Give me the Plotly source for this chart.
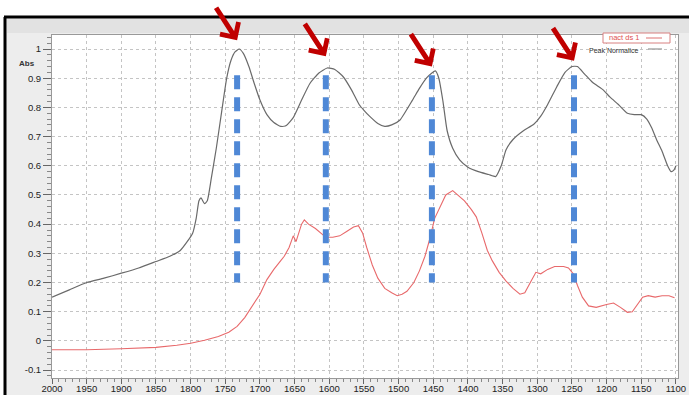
import plotly.graph_objects as go

# ---------------- data ----------------
gray_wn = [2000, 1975, 1950, 1925, 1900, 1875, 1850, 1830, 1815, 1805, 1797, 1792, 1788, 1785,
           1780, 1776, 1770, 1763, 1755, 1748, 1742, 1736, 1730, 1724, 1716, 1708, 1700, 1690,
           1680, 1670, 1662, 1652, 1640, 1628, 1615, 1603, 1592, 1580, 1568, 1557, 1550, 1542,
           1530, 1520, 1510, 1498, 1480, 1470, 1460, 1452, 1447, 1442, 1436, 1430, 1422, 1412,
           1400, 1385, 1370, 1360, 1352, 1345, 1335, 1320, 1305, 1295, 1285, 1272, 1260, 1250,
           1242, 1232, 1220, 1205, 1195, 1183, 1170, 1160, 1150, 1142, 1135, 1128, 1120, 1112,
           1107, 1103, 1100]
gray_abs = [0.150, 0.175, 0.200, 0.215, 0.232, 0.250, 0.272, 0.290, 0.310, 0.340, 0.370, 0.420, 0.480, 0.490,
            0.470, 0.480, 0.560, 0.660, 0.790, 0.900, 0.960, 0.990, 1.000, 0.985, 0.940, 0.880, 0.825, 0.775,
            0.748, 0.735, 0.738, 0.765, 0.825, 0.882, 0.918, 0.935, 0.930, 0.905, 0.860, 0.810, 0.790, 0.770,
            0.745, 0.735, 0.740, 0.757, 0.825, 0.865, 0.900, 0.918, 0.925, 0.900, 0.820, 0.720, 0.660, 0.620,
            0.595, 0.580, 0.570, 0.563, 0.600, 0.655, 0.690, 0.720, 0.742, 0.770, 0.810, 0.870, 0.920, 0.940,
            0.940, 0.915, 0.885, 0.860, 0.835, 0.810, 0.780, 0.775, 0.775, 0.760, 0.730, 0.690, 0.650, 0.600,
            0.580, 0.585, 0.600]

red_wn = [2000, 1950, 1900, 1850, 1820, 1800, 1780, 1760, 1745, 1733, 1722, 1712, 1700, 1690,
          1680, 1670, 1665, 1658, 1652, 1648, 1645, 1640, 1636, 1630, 1620, 1612, 1605, 1595,
          1585, 1575, 1565, 1558, 1552, 1546, 1538, 1530, 1520, 1510, 1502, 1495, 1488, 1478,
          1470, 1462, 1455, 1448, 1440, 1432, 1422, 1415, 1405, 1395, 1388, 1380, 1372, 1365,
          1355, 1345, 1335, 1325, 1318, 1310, 1302, 1295, 1285, 1275, 1262, 1255, 1248, 1242,
          1235, 1226, 1215, 1200, 1190, 1180, 1170, 1163, 1155, 1148, 1140, 1130, 1120, 1110, 1102]
red_abs = [-0.030, -0.030, -0.027, -0.022, -0.015, -0.008, 0.002, 0.015, 0.030, 0.050, 0.080, 0.115, 0.160, 0.210,
           0.245, 0.275, 0.290, 0.320, 0.360, 0.340, 0.360, 0.400, 0.415, 0.400, 0.385, 0.370, 0.355, 0.355,
           0.360, 0.375, 0.390, 0.395, 0.370, 0.320, 0.260, 0.215, 0.180, 0.165, 0.155, 0.160, 0.170, 0.200,
           0.240, 0.290, 0.350, 0.420, 0.460, 0.500, 0.515, 0.500, 0.480, 0.450, 0.425, 0.370, 0.310, 0.275,
           0.235, 0.205, 0.180, 0.160, 0.165, 0.200, 0.235, 0.230, 0.245, 0.255, 0.255, 0.250, 0.230, 0.190,
           0.150, 0.120, 0.115, 0.125, 0.130, 0.115, 0.098, 0.100, 0.125, 0.150, 0.155, 0.150, 0.155, 0.155, 0.148]

peak_wn = [1733, 1605, 1452, 1247]          # blue dashed markers / red arrows
marker_abs_range = [0.91, 0.20]
arrow_tip_abs = [1.03, 0.975, 0.94, 0.96]

x_tick_vals = [2000, 1950, 1900, 1850, 1800, 1750, 1700, 1650, 1600, 1550, 1500, 1450, 1400,
               1350, 1300, 1250, 1200, 1150, 1100]
x_tick_text = ["2000", "1950", "1900", "1850", "1800", "1750", "1700", "1650", "1600", "1550",
               "1500", "1450", "1400", "1350", "1300", "1250", "1200", "1150", "1100"]
y_tick_vals = [1.0, 0.9, 0.8, 0.7, 0.6, 0.5, 0.4, 0.3, 0.2, 0.1, 0.0, -0.1]
y_tick_text = ["1", "0.9", "0.8", "0.7", "0.6", "0.5", "0.4", "0.3", "0.2", "0.1", "0", "-0.1"]

legend_names = ["nact ds 1", "Peak Normalice"]

# ---------------- figure ----------------
FONT = "Liberation Sans, Arial, sans-serif"
fig = go.Figure()

fig.add_trace(go.Scatter(x=red_wn, y=red_abs, mode="lines", name=legend_names[0],
                         line=dict(color="#e8696b", width=1.1), showlegend=False))
fig.add_trace(go.Scatter(x=gray_wn, y=gray_abs, mode="lines", name=legend_names[1],
                         line=dict(color="#6a6a6a", width=1.2, shape="spline", smoothing=0.5),
                         showlegend=False))

for wn in peak_wn:
    fig.add_trace(go.Scatter(x=[wn, wn], y=marker_abs_range, mode="lines",
                             line=dict(color="#4f88d6", width=6, dash="14px,8px"),
                             showlegend=False, hoverinfo="skip"))

for wn, tip in zip(peak_wn, arrow_tip_abs):
    fig.add_annotation(x=wn, y=tip, xref="x", yref="y", text="", showarrow=True,
                       ax=-22, ay=-34, arrowhead=4, arrowsize=0.85, arrowwidth=5,
                       arrowcolor="#c00000")

def px2x(px):
    return (px - 52) / 626.0

def py2y(py):
    return (378 - py) / 343.0

shapes = [
    dict(type="rect", xref="paper", yref="paper", x0=px2x(5), x1=px2x(692), y0=py2y(398), y1=py2y(17),
         fillcolor="#ededed", line=dict(width=0), layer="below"),
    dict(type="rect", xref="paper", yref="paper", x0=px2x(7), x1=px2x(692), y0=py2y(33), y1=py2y(19),
         fillcolor="#e2e2e2", line=dict(width=0), layer="below"),
    dict(type="rect", xref="paper", yref="paper", x0=0, x1=1, y0=0, y1=1,
         fillcolor="white", line=dict(width=0), layer="below"),
    dict(type="line", xref="paper", yref="paper", x0=px2x(4), x1=px2x(692), y0=py2y(17), y1=py2y(17),
         line=dict(color="black", width=3)),
    dict(type="line", xref="paper", yref="paper", x0=px2x(5), x1=px2x(5), y0=py2y(17), y1=py2y(398),
         line=dict(color="black", width=3)),
    # legend
    dict(type="rect", xref="paper", yref="paper", x0=px2x(603), x1=px2x(670), y0=py2y(43), y1=py2y(33),
         fillcolor="white", line=dict(color="#d88080", width=1)),
    dict(type="line", xref="paper", yref="paper", x0=px2x(646), x1=px2x(662), y0=py2y(38), y1=py2y(38),
         line=dict(color="#e8a0a0", width=1.5)),
    dict(type="line", xref="paper", yref="paper", x0=px2x(648), x1=px2x(662), y0=py2y(49), y1=py2y(49),
         line=dict(color="#aaaaaa", width=1.5)),
]

annotations_extra = [
    dict(text=legend_names[0], xref="paper", yref="paper", x=px2x(641), y=py2y(38),
         xanchor="right", yanchor="middle", showarrow=False,
         font=dict(family=FONT, size=7.5, color="#e05050")),
    dict(text=legend_names[1], xref="paper", yref="paper", x=px2x(641), y=py2y(50),
         xanchor="right", yanchor="middle", showarrow=False,
         font=dict(family=FONT, size=7, color="#333333")),
    dict(text="<b>Abs</b>", xref="paper", yref="paper", x=px2x(37), y=py2y(64),
         xanchor="right", yanchor="middle", showarrow=False,
         font=dict(family=FONT, size=8, color="#333333")),
]
for a in annotations_extra:
    fig.add_annotation(**a)

fig.update_layout(
    width=689, height=395,
    margin=dict(l=52, r=11, t=35, b=17, pad=0, autoexpand=False),
    paper_bgcolor="white",
    plot_bgcolor="rgba(0,0,0,0)",
    shapes=shapes,
    font=dict(family=FONT, size=9.5, color="#222222"),
    xaxis=dict(range=[2000, 1097], tickvals=x_tick_vals, ticktext=x_tick_text, automargin=False,
               showgrid=True, gridcolor="#c4c4c4", griddash="dot", gridwidth=1,
               ticks="outside", ticklen=5, tickcolor="#666666", tickwidth=1,
               ticklabelstandoff=-3,
               minor=dict(dtick=10, ticks="outside", ticklen=3, tickcolor="#888888", showgrid=False),
               showline=True, linecolor="#999999", linewidth=1, mirror=True,
               zeroline=False, tickfont=dict(size=9.5)),
    yaxis=dict(range=[-0.127, 1.048], tickvals=y_tick_vals, ticktext=y_tick_text, automargin=False,
               showgrid=True, gridcolor="#c4c4c4", griddash="dot", gridwidth=1,
               ticks="outside", ticklen=8, tickcolor="#666666", tickwidth=1,
               minor=dict(dtick=0.02, tick0=0, ticks="outside", ticklen=4, tickcolor="#888888", showgrid=False),
               showline=True, linecolor="#999999", linewidth=1, mirror=True,
               zeroline=False, tickfont=dict(size=9.5)),
)

fig.write_html("out.html")
